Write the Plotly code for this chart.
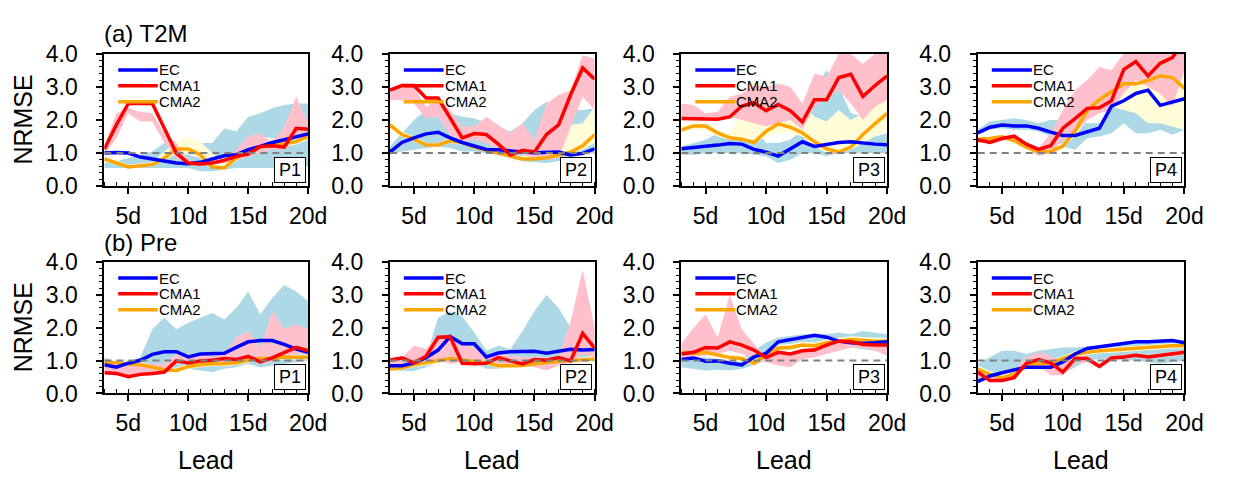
import plotly.graph_objects as go

# ---------------- data ----------------
LEAD = list(range(3, 21))
X_TICKS = [5, 10, 15, 20]
X_TICKTEXT = ["5d", "10d", "15d", "20d"]
Y_TICKS = [0, 1, 2, 3, 4]
Y_TICKTEXT = ["0.0", "1.0", "2.0", "3.0", "4.0"]
REF = 1.0
MODELS = ["EC", "CMA1", "CMA2"]
PANEL_LABELS = ["P1", "P2", "P3", "P4"]
ROW_TITLES = ["(a) T2M", "(b) Pre"]

# ---- (a) T2M ----
T2M_P1_EC = [1.00,1.02,1.00,0.88,0.82,0.76,0.70,0.68,0.72,0.82,0.92,0.95,1.10,1.20,1.32,1.40,1.50,1.58]
T2M_P1_CMA1 = [1.12,1.85,2.50,2.50,2.50,1.75,1.00,0.70,0.67,0.70,0.78,0.90,0.97,1.20,1.22,1.18,1.75,1.72]
T2M_P1_CMA2 = [0.82,0.70,0.58,0.62,0.65,0.85,1.12,1.12,0.95,0.58,0.55,0.85,1.05,1.18,1.25,1.28,1.35,1.50]
T2M_P1_EC_LO = [0.55,0.55,0.55,0.55,0.55,0.55,0.55,0.55,0.45,0.45,0.50,0.55,0.55,0.55,0.55,0.55,0.60,0.60]
T2M_P1_EC_HI = [0.70,0.75,0.85,0.95,1.05,1.30,1.35,1.30,1.30,1.30,1.75,1.65,2.10,2.20,2.35,2.45,2.50,2.50]
T2M_P1_CMA1_LO = [0.95,1.45,2.20,1.95,1.95,1.30,0.85,0.65,0.62,0.65,0.70,0.78,0.90,1.00,1.10,1.10,1.50,1.40]
T2M_P1_CMA1_HI = [1.20,2.20,2.35,2.25,2.20,1.60,1.30,0.78,0.75,0.75,0.85,1.10,1.50,1.60,1.30,1.80,2.70,1.90]
T2M_P1_CMA2_LO = [0.75,0.65,0.55,0.58,0.60,0.80,0.95,0.95,0.85,0.55,0.50,0.75,0.95,1.05,1.15,1.20,1.25,1.40]
T2M_P1_CMA2_HI = [0.88,0.78,0.65,0.68,0.72,1.05,1.35,1.50,1.35,1.00,0.70,0.95,1.35,1.50,1.45,1.40,1.45,1.60]

T2M_P2_EC = [1.03,1.32,1.46,1.58,1.63,1.46,1.32,1.22,1.11,1.10,1.06,1.03,1.01,1.01,1.03,0.94,0.99,1.13]
T2M_P2_CMA1 = [2.90,3.04,3.04,2.66,2.66,2.04,1.46,1.59,1.56,1.27,0.94,1.08,1.03,1.56,1.85,2.76,3.57,3.23]
T2M_P2_CMA2 = [1.85,1.56,1.42,1.24,1.24,1.37,1.32,1.18,1.08,0.99,0.89,0.82,0.82,0.86,0.94,1.03,1.22,1.56]
T2M_P2_EC_LO = [0.95,1.05,1.10,1.15,1.20,1.15,1.05,1.05,1.00,0.95,0.85,0.75,0.72,0.70,0.75,0.90,0.95,1.00]
T2M_P2_EC_HI = [1.20,1.60,2.00,2.30,2.30,2.20,2.10,2.05,1.90,1.80,1.65,1.90,2.30,2.55,2.30,2.30,2.30,2.35]
T2M_P2_CMA1_LO = [2.60,2.60,2.50,2.05,2.10,1.55,1.35,1.40,1.30,1.10,1.00,0.95,0.85,0.80,0.85,1.80,2.70,2.30]
T2M_P2_CMA1_HI = [2.85,3.00,3.00,2.40,2.60,2.30,1.80,1.80,2.10,1.85,1.60,1.90,1.40,2.50,2.75,2.90,3.95,3.85]
T2M_P2_CMA2_LO = [1.75,1.50,1.35,1.20,1.20,1.30,1.25,1.15,1.05,0.95,0.85,0.78,0.78,0.82,0.90,1.00,1.10,1.30]
T2M_P2_CMA2_HI = [1.95,1.65,1.50,1.30,1.30,1.45,1.40,1.25,1.15,1.05,0.95,0.90,1.30,1.75,1.85,1.85,1.90,2.40]

T2M_P3_EC = [1.13,1.16,1.21,1.24,1.29,1.27,1.11,1.03,0.91,1.12,1.34,1.20,1.27,1.32,1.34,1.30,1.27,1.25]
T2M_P3_CMA1 = [2.04,2.04,2.04,2.02,2.09,2.42,2.52,2.28,2.47,2.28,1.94,2.61,2.61,3.28,3.38,2.71,3.04,3.33]
T2M_P3_CMA2 = [1.70,1.82,1.82,1.61,1.46,1.42,1.32,1.66,1.88,1.78,1.61,1.34,1.13,1.03,1.18,1.56,1.89,2.20]
T2M_P3_EC_LO = [0.95,0.95,1.00,1.00,1.00,1.00,0.95,0.90,0.70,0.80,1.00,1.00,0.90,1.00,1.00,1.00,1.00,1.00]
T2M_P3_EC_HI = [1.20,1.30,1.40,1.60,1.60,1.70,1.85,1.30,1.30,1.40,1.70,3.00,3.50,3.00,2.20,2.10,1.50,1.60]
T2M_P3_CMA1_LO = [2.00,2.00,2.00,2.05,2.10,2.00,1.90,1.80,1.90,2.00,1.70,2.40,2.70,2.90,2.50,2.00,2.40,2.60]
T2M_P3_CMA1_HI = [2.50,2.45,2.20,2.25,2.70,2.80,3.05,3.00,3.10,3.00,2.50,3.40,3.30,4.00,4.00,3.70,4.00,4.00]
T2M_P3_CMA2_LO = [1.60,1.70,1.70,1.50,1.40,1.40,1.30,1.50,1.60,1.60,1.50,1.20,1.00,1.00,1.10,1.30,1.50,1.70]
T2M_P3_CMA2_HI = [1.80,1.90,1.90,1.70,1.60,2.30,2.30,2.60,2.70,2.90,2.50,2.10,1.95,2.30,2.00,2.20,2.50,2.60]

T2M_P4_EC = [1.61,1.78,1.85,1.82,1.82,1.75,1.63,1.53,1.53,1.63,1.75,2.42,2.58,2.80,2.90,2.44,2.55,2.64]
T2M_P4_CMA1 = [1.40,1.32,1.44,1.51,1.27,1.11,1.22,1.75,2.04,2.35,2.37,2.58,3.52,3.76,3.33,3.71,3.88,4.40]
T2M_P4_CMA2 = [1.42,1.44,1.49,1.37,1.18,1.03,1.05,1.21,1.66,2.28,2.61,2.85,3.09,3.09,3.19,3.33,3.28,2.95]
T2M_P4_EC_LO = [1.55,1.70,1.75,1.70,1.70,1.65,1.50,1.20,1.10,1.45,1.50,1.60,1.90,1.60,1.60,1.70,1.55,1.70]
T2M_P4_EC_HI = [1.70,1.95,2.00,2.05,2.00,1.90,2.00,2.00,1.90,1.90,1.90,2.40,2.70,2.30,2.50,2.20,2.30,2.40]
T2M_P4_CMA1_LO = [1.30,1.30,1.40,1.40,1.15,0.90,1.00,1.40,1.60,2.00,2.20,2.30,2.80,3.20,3.00,2.80,2.40,3.50]
T2M_P4_CMA1_HI = [1.45,1.45,1.50,1.55,1.30,1.15,1.60,2.30,2.90,3.20,3.60,3.50,4.00,4.00,4.00,4.00,4.00,4.00]
T2M_P4_CMA2_LO = [1.35,1.40,1.45,1.35,1.15,1.00,1.00,1.15,1.50,2.00,2.20,2.40,2.30,2.20,1.90,1.90,1.80,1.70]
T2M_P4_CMA2_HI = [1.50,1.50,1.55,1.45,1.25,1.10,1.10,1.30,1.80,2.40,2.80,3.00,3.70,3.90,4.00,3.60,3.60,3.50]

# ---- (b) Pre ----
PRE_P1_EC = [0.87,0.80,0.92,1.01,1.19,1.27,1.27,1.11,1.20,1.22,1.22,1.40,1.57,1.61,1.61,1.49,1.35,1.25]
PRE_P1_CMA1 = [0.63,0.61,0.51,0.58,0.61,0.65,0.99,0.93,0.99,1.01,1.06,1.03,1.13,0.96,1.08,1.25,1.40,1.30]
PRE_P1_CMA2 = [0.96,0.93,0.92,0.87,0.80,0.72,0.70,0.82,0.87,0.90,0.90,0.93,1.01,1.06,1.06,1.11,1.10,1.10]
PRE_P1_EC_LO = [0.70,0.70,0.75,0.80,0.80,0.80,0.75,0.75,0.70,0.65,0.75,0.80,0.90,0.80,0.85,0.90,0.95,1.00]
PRE_P1_EC_HI = [1.00,0.90,0.95,1.10,1.95,2.30,1.95,2.15,2.30,2.45,2.25,2.60,3.10,2.40,2.90,3.30,3.10,2.80]
PRE_P1_CMA1_LO = [0.60,0.55,0.50,0.55,0.55,0.60,0.90,0.90,0.90,0.95,0.95,0.95,1.00,0.90,0.95,1.10,1.20,1.20]
PRE_P1_CMA1_HI = [1.10,0.95,0.90,0.90,0.90,0.90,1.20,1.20,1.20,1.15,1.20,1.70,1.90,1.40,2.50,1.95,2.10,1.95]
PRE_P1_CMA2_LO = [0.88,0.85,0.84,0.80,0.72,0.65,0.63,0.75,0.80,0.83,0.83,0.86,0.94,0.99,0.99,1.04,1.03,1.03]
PRE_P1_CMA2_HI = [1.04,1.01,1.00,0.95,0.88,0.80,0.78,0.90,0.95,0.98,0.98,1.01,1.09,1.14,1.14,1.19,1.18,1.18]

PRE_P2_EC = [0.84,0.84,0.93,1.09,1.32,1.73,1.51,1.51,1.11,1.23,1.27,1.28,1.28,1.22,1.27,1.34,1.32,1.34]
PRE_P2_CMA1 = [1.01,1.08,0.93,1.13,1.71,1.72,0.92,0.90,0.92,1.09,0.99,0.90,1.03,1.01,1.09,0.99,1.83,1.38]
PRE_P2_CMA2 = [0.74,0.78,0.87,0.93,0.98,1.06,1.02,0.98,0.93,0.84,0.84,0.85,0.90,0.95,0.98,1.00,1.02,1.05]
PRE_P2_EC_LO = [0.70,0.70,0.68,0.80,0.95,1.30,1.05,0.95,0.75,0.75,0.80,0.90,0.95,1.00,1.00,1.05,1.10,1.15]
PRE_P2_EC_HI = [0.85,0.85,0.95,1.10,2.30,2.50,2.35,1.85,1.30,1.45,1.35,1.90,2.50,3.00,2.60,2.00,1.60,1.50]
PRE_P2_CMA1_LO = [0.80,0.90,0.90,0.95,1.00,0.90,0.95,0.85,0.90,0.90,0.88,0.85,0.80,0.70,0.85,0.95,1.20,1.10]
PRE_P2_CMA1_HI = [1.10,1.10,1.45,1.35,1.80,1.70,1.55,1.40,1.20,1.20,1.15,1.10,1.10,1.10,1.10,2.20,3.75,2.00]
PRE_P2_CMA2_LO = [0.68,0.72,0.80,0.86,0.90,0.98,0.94,0.90,0.86,0.78,0.78,0.79,0.84,0.88,0.91,0.93,0.95,0.98]
PRE_P2_CMA2_HI = [0.80,0.85,0.94,1.00,1.06,1.14,1.10,1.06,1.00,0.90,0.90,0.92,0.96,1.02,1.05,1.07,1.09,1.12]

PRE_P3_EC = [1.03,1.08,0.98,0.99,0.92,0.87,1.11,1.22,1.57,1.64,1.71,1.77,1.71,1.59,1.54,1.52,1.54,1.57]
PRE_P3_CMA1 = [1.20,1.25,1.40,1.38,1.57,1.47,1.32,1.09,1.25,1.20,1.30,1.32,1.47,1.59,1.57,1.49,1.47,1.47]
PRE_P3_CMA2 = [1.25,1.22,1.25,1.16,1.09,1.06,0.92,1.16,1.38,1.40,1.47,1.45,1.54,1.59,1.64,1.62,1.59,1.59]
PRE_P3_EC_LO = [0.80,0.75,0.70,0.72,0.70,0.75,0.85,1.00,1.20,1.40,1.50,1.50,1.50,1.45,1.40,1.35,1.30,1.30]
PRE_P3_EC_HI = [1.10,1.10,1.10,1.05,1.05,1.10,1.30,1.55,1.70,1.75,1.80,1.80,1.80,1.85,1.80,1.90,1.85,1.80]
PRE_P3_CMA1_LO = [1.10,1.10,1.15,1.20,1.30,1.20,1.10,0.95,0.85,0.80,1.05,1.10,1.20,1.30,1.40,1.40,1.30,1.15]
PRE_P3_CMA1_HI = [1.50,2.00,2.40,1.70,3.00,1.95,1.50,1.10,1.20,1.20,1.35,1.40,1.50,1.60,1.60,1.60,1.60,1.60]
PRE_P3_CMA2_LO = [1.15,1.12,1.15,1.06,0.99,0.96,0.85,1.06,1.28,1.30,1.37,1.35,1.44,1.49,1.54,1.52,1.49,1.49]
PRE_P3_CMA2_HI = [1.35,1.32,1.35,1.26,1.19,1.16,1.02,1.26,1.48,1.50,1.57,1.55,1.64,1.69,1.74,1.72,1.69,1.69]

PRE_P4_EC = [0.36,0.53,0.63,0.72,0.80,0.80,0.80,0.96,1.20,1.37,1.42,1.47,1.51,1.57,1.57,1.59,1.61,1.54]
PRE_P4_CMA1 = [0.65,0.39,0.39,0.48,0.92,1.03,0.93,0.65,1.06,1.06,0.82,1.08,1.11,1.16,1.11,1.16,1.19,1.25]
PRE_P4_CMA2 = [0.74,0.58,0.48,0.58,0.87,0.90,0.93,1.06,1.19,1.25,1.30,1.32,1.35,1.37,1.40,1.42,1.45,1.45]
PRE_P4_EC_LO = [0.40,0.50,0.60,0.65,0.75,0.75,0.70,0.60,0.80,1.00,1.05,1.05,1.00,1.00,0.95,0.90,0.95,1.00]
PRE_P4_EC_HI = [0.90,1.10,1.30,1.30,1.20,1.30,1.35,1.40,1.40,1.42,1.45,1.50,1.55,1.57,1.57,1.60,1.62,1.60]
PRE_P4_CMA1_LO = [0.50,0.35,0.35,0.45,0.85,0.85,0.55,0.55,0.90,0.95,0.75,1.00,1.05,1.10,1.05,1.10,1.12,1.18]
PRE_P4_CMA1_HI = [0.70,0.50,0.45,0.70,1.10,1.25,1.15,0.90,1.15,1.15,0.90,1.15,1.18,1.22,1.18,1.22,1.25,1.32]
PRE_P4_CMA2_LO = [0.64,0.48,0.40,0.50,0.78,0.82,0.85,0.98,1.10,1.17,1.22,1.24,1.27,1.29,1.32,1.34,1.37,1.37]
PRE_P4_CMA2_HI = [0.84,0.68,0.56,0.66,0.96,0.98,1.01,1.14,1.28,1.33,1.38,1.40,1.43,1.45,1.48,1.50,1.53,1.53]

PANELS = [
    [  # row (a)
        (T2M_P1_EC, T2M_P1_CMA1, T2M_P1_CMA2, T2M_P1_EC_LO, T2M_P1_EC_HI, T2M_P1_CMA1_LO, T2M_P1_CMA1_HI, T2M_P1_CMA2_LO, T2M_P1_CMA2_HI),
        (T2M_P2_EC, T2M_P2_CMA1, T2M_P2_CMA2, T2M_P2_EC_LO, T2M_P2_EC_HI, T2M_P2_CMA1_LO, T2M_P2_CMA1_HI, T2M_P2_CMA2_LO, T2M_P2_CMA2_HI),
        (T2M_P3_EC, T2M_P3_CMA1, T2M_P3_CMA2, T2M_P3_EC_LO, T2M_P3_EC_HI, T2M_P3_CMA1_LO, T2M_P3_CMA1_HI, T2M_P3_CMA2_LO, T2M_P3_CMA2_HI),
        (T2M_P4_EC, T2M_P4_CMA1, T2M_P4_CMA2, T2M_P4_EC_LO, T2M_P4_EC_HI, T2M_P4_CMA1_LO, T2M_P4_CMA1_HI, T2M_P4_CMA2_LO, T2M_P4_CMA2_HI),
    ],
    [  # row (b)
        (PRE_P1_EC, PRE_P1_CMA1, PRE_P1_CMA2, PRE_P1_EC_LO, PRE_P1_EC_HI, PRE_P1_CMA1_LO, PRE_P1_CMA1_HI, PRE_P1_CMA2_LO, PRE_P1_CMA2_HI),
        (PRE_P2_EC, PRE_P2_CMA1, PRE_P2_CMA2, PRE_P2_EC_LO, PRE_P2_EC_HI, PRE_P2_CMA1_LO, PRE_P2_CMA1_HI, PRE_P2_CMA2_LO, PRE_P2_CMA2_HI),
        (PRE_P3_EC, PRE_P3_CMA1, PRE_P3_CMA2, PRE_P3_EC_LO, PRE_P3_EC_HI, PRE_P3_CMA1_LO, PRE_P3_CMA1_HI, PRE_P3_CMA2_LO, PRE_P3_CMA2_HI),
        (PRE_P4_EC, PRE_P4_CMA1, PRE_P4_CMA2, PRE_P4_EC_LO, PRE_P4_EC_HI, PRE_P4_CMA1_LO, PRE_P4_CMA1_HI, PRE_P4_CMA2_LO, PRE_P4_CMA2_HI),
    ],
]

# ---------------- style ----------------
W, H = 1235, 485
FONT = "Liberation Sans, Arial, Helvetica, sans-serif"
LINE_COLORS = {"EC": "#0000FF", "CMA1": "#FF0000", "CMA2": "#FFA500"}
BAND_COLORS = {"EC": "#ADD8E6", "CMA1": "#FFC0CB", "CMA2": "#FFFDD8"}
COL_PX = [(106, 313), (396, 604), (692, 901), (993, 1203)]
ROW_PX = [(43, 183), (263, 402)]

fig = go.Figure()

def ax_name(i, kind):
    return kind if i == 0 else f"{kind}{i + 1}"

idx = 0
for r in range(2):
    for c in range(4):
        ec, c1, c2, ec_lo, ec_hi, c1_lo, c1_hi, c2_lo, c2_hi = PANELS[r][c]
        xa = ax_name(idx, "x")
        ya = ax_name(idx, "y")
        # spread bands: EC, CMA2, CMA1
        for lo, hi, key in [(ec_lo, ec_hi, "EC"), (c2_lo, c2_hi, "CMA2"), (c1_lo, c1_hi, "CMA1")]:
            fig.add_trace(go.Scatter(x=LEAD, y=lo, mode="lines", line=dict(width=0),
                                     showlegend=False, hoverinfo="skip", xaxis=xa, yaxis=ya))
            fig.add_trace(go.Scatter(x=LEAD, y=hi, mode="lines", line=dict(width=0),
                                     fill="tonexty", fillcolor=BAND_COLORS[key],
                                     showlegend=False, hoverinfo="skip", xaxis=xa, yaxis=ya))
        # model lines
        for vals, key in [(c2, "CMA2"), (ec, "EC"), (c1, "CMA1")]:
            fig.add_trace(go.Scatter(x=LEAD, y=vals, mode="lines", name=key,
                                     line=dict(color=LINE_COLORS[key], width=3.5),
                                     showlegend=False, xaxis=xa, yaxis=ya))
        # reference line
        fig.add_trace(go.Scatter(x=[LEAD[0], LEAD[-1]], y=[REF, REF], mode="lines",
                                 line=dict(color="#808080", width=2, dash="7px,5px"),
                                 showlegend=False, hoverinfo="skip", xaxis=xa, yaxis=ya))

        x0, x1 = COL_PX[c]
        y0, y1 = ROW_PX[r]
        xdom = [x0 / W, x1 / W]
        ydom = [1 - y1 / H, 1 - y0 / H]
        fig.update_layout(**{
            ("xaxis" if idx == 0 else f"xaxis{idx + 1}"): dict(
                domain=xdom, anchor=ya, range=[LEAD[0], LEAD[-1]],
                tickmode="array", tickvals=X_TICKS, ticktext=X_TICKTEXT,
                ticks="outside", ticklen=6, tickwidth=1.5, tickcolor="black",
                minor=dict(dtick=1, ticks="inside", ticklen=4, tickwidth=1.2, tickcolor="black"),
                showline=True, linecolor="black", linewidth=2, mirror=True,
                showgrid=False, zeroline=False,
                tickfont=dict(family=FONT, size=23, color="black"),
                ticklabelstandoff=2,
            ),
            ("yaxis" if idx == 0 else f"yaxis{idx + 1}"): dict(
                domain=ydom, anchor=xa, range=[0, 4],
                tickmode="array", tickvals=Y_TICKS, ticktext=Y_TICKTEXT,
                ticks="outside", ticklen=6, tickwidth=1.5, tickcolor="black",
                minor=dict(dtick=0.2, ticks="outside", ticklen=3, tickwidth=1.2, tickcolor="black"),
                showline=True, linecolor="black", linewidth=2, mirror=True,
                showgrid=False, zeroline=False,
                tickfont=dict(family=FONT, size=23, color="black"),
                ticklabelstandoff=14,
            ),
        })

        # in-panel key
        for k, key in enumerate(MODELS):
            yk = [0.877, 0.758, 0.637][k]
            fig.add_shape(type="line", xref=f"{xa} domain", yref=f"{ya} domain",
                          x0=0.068, x1=0.262, y0=yk, y1=yk,
                          line=dict(color=LINE_COLORS[key], width=3.5))
            fig.add_annotation(xref=f"{xa} domain", yref=f"{ya} domain", x=0.258, y=yk,
                               text=key, showarrow=False, xanchor="left", yanchor="middle",
                               font=dict(family=FONT, size=15, color="black"))
        # panel label box
        fig.add_annotation(xref=f"{xa} domain", yref=f"{ya} domain", x=0.988, y=0.025,
                           text=PANEL_LABELS[c], showarrow=False, xanchor="right", yanchor="bottom",
                           font=dict(family=FONT, size=18, color="black"),
                           bordercolor="black", borderwidth=1, borderpad=1,
                           width=28, height=22, bgcolor="white")
        idx += 1

# row titles, axis titles
for r in range(2):
    y0, y1 = ROW_PX[r]
    fig.add_annotation(xref="paper", yref="paper", x=104 / W, y=1 - [22, 242][r] / H,
                       text=ROW_TITLES[r], showarrow=False, xanchor="left", yanchor="middle",
                       font=dict(family=FONT, size=24, color="black"))
    fig.add_annotation(xref="paper", yref="paper", x=23 / W, y=1 - (y0 + y1) / 2 / H,
                       text="NRMSE", textangle=-90, showarrow=False, xanchor="center", yanchor="middle",
                       font=dict(family=FONT, size=25, color="black"))
for c in range(4):
    x0, x1 = COL_PX[c]
    fig.add_annotation(xref="paper", yref="paper", x=(x0 + x1) / 2 / W, y=1 - 472 / H,
                       text="Lead", showarrow=False, xanchor="center", yanchor="middle",
                       font=dict(family=FONT, size=25, color="black"))

fig.update_layout(width=W, height=H, margin=dict(l=0, r=0, t=0, b=0),
                  paper_bgcolor="white", plot_bgcolor="white", showlegend=False)
fig.write_html("out.html")
